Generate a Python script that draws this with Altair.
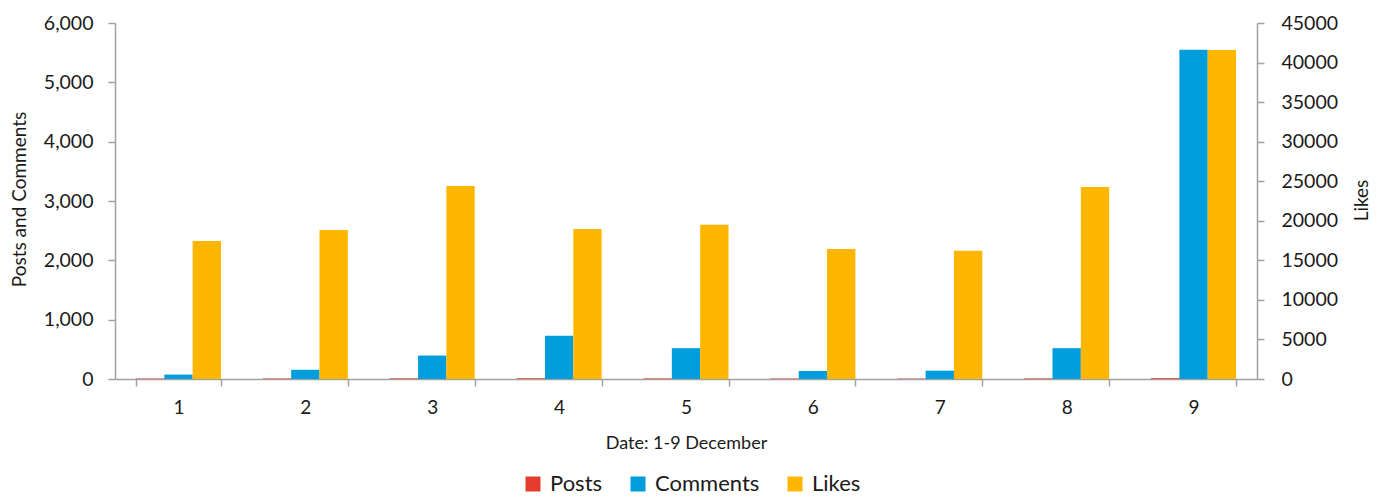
import altair as alt
import pandas as pd

days = [1, 2, 3, 4, 5, 6, 7, 8, 9]
series_names = ["Posts", "Comments", "Likes"]
series_colors = ["#E63A2E", "#009DDD", "#FFB600"]
posts = [8, 9, 11, 12, 10, 8, 7, 10, 14]
comments = [75, 155, 395, 730, 520, 135, 140, 520, 5550]
likes = [17450, 18830, 24400, 18960, 19500, 16430, 16220, 24270, 41590]
left_ticks = [0, 1000, 2000, 3000, 4000, 5000, 6000]
right_ticks = [0, 5000, 10000, 15000, 20000, 25000, 30000, 35000, 40000, 45000]

rows = []
for i, d in enumerate(days):
    rows.append({"day": d, "series": "Posts", "value": posts[i]})
    rows.append({"day": d, "series": "Comments", "value": comments[i]})
    rows.append({"day": d, "series": "Likes", "value": likes[i]})
df = pd.DataFrame(rows)

W, H = 1142, 356
FONT = "Lato"
AXIS_GRAY = "#A0A0A0"
TEXT = "#1a1a1a"

x_enc = alt.X(
    "day:O",
    title="Date: 1-9 December",
    scale=alt.Scale(paddingInner=0.33, paddingOuter=0.165),
    axis=alt.Axis(
        labelAngle=0, tickBand="extent", tickSize=7, labelPadding=12,
        labelFontSize=19, labelFont=FONT, labelColor=TEXT,
        domainColor=AXIS_GRAY, tickColor=AXIS_GRAY, domainWidth=1.5, tickWidth=1.5,
        titleFont=FONT, titleFontSize=18, titleFontWeight="normal", titleColor=TEXT,
        titleX=W / 2, titleY=69, titleAlign="center", titleBaseline="alphabetic",
        grid=False,
    ),
)
xo_enc = alt.XOffset(
    "series:N",
    scale=alt.Scale(domain=series_names, paddingInner=0, paddingOuter=0),
)
color_enc = alt.Color(
    "series:N",
    scale=alt.Scale(domain=series_names, range=series_colors),
    legend=alt.Legend(
        title=None, orient="none", direction="horizontal",
        legendX=407, legendY=450,
        symbolType="square", symbolSize=225, symbolStrokeWidth=0,
        labelFont=FONT, labelFontSize=22, labelColor=TEXT,
        columnPadding=24, labelOffset=6,
    ),
)

left = alt.Chart(df).transform_filter("datum.series != 'Likes'").mark_bar().encode(
    x=x_enc,
    xOffset=xo_enc,
    y=alt.Y(
        "value:Q",
        title="Posts and Comments",
        scale=alt.Scale(domain=[0, 6000], nice=False),
        axis=alt.Axis(
            values=left_ticks, format=",d", tickSize=7, labelPadding=15,
            labelFontSize=19.5, labelFont=FONT, labelColor=TEXT,
            domainColor=AXIS_GRAY, tickColor=AXIS_GRAY, domainWidth=1.5, tickWidth=1.5,
            titleFont=FONT, titleFontSize=19, titleFontWeight="normal", titleColor=TEXT,
            titleAngle=270, titleX=-90, titleY=176, titleAlign="center",
            titleBaseline="alphabetic", grid=False,
        ),
    ),
    color=color_enc,
)

right = alt.Chart(df).transform_filter("datum.series == 'Likes'").mark_bar().encode(
    x=x_enc,
    xOffset=xo_enc,
    y=alt.Y(
        "value:Q",
        title="Likes",
        scale=alt.Scale(domain=[0, 45000], nice=False),
        axis=alt.Axis(
            orient="right", values=right_ticks, format="d", tickSize=7, labelPadding=17,
            labelFontSize=19.5, labelFont=FONT, labelColor=TEXT,
            domainColor=AXIS_GRAY, tickColor=AXIS_GRAY, domainWidth=1.5, tickWidth=1.5,
            titleFont=FONT, titleFontSize=19, titleFontWeight="normal", titleColor=TEXT,
            titleAngle=270, titleX=110, titleY=177, titleAlign="center",
            titleBaseline="alphabetic", grid=False,
        ),
    ),
    color=color_enc,
)

chart = (
    alt.layer(left, right)
    .resolve_scale(y="independent")
    .properties(
        width=W,
        height=H,
        autosize=alt.AutoSizeParams(type="none"),
        padding={"left": 107, "top": 15, "right": 123, "bottom": 119},
    )
    .configure_view(stroke=None)
)

chart.save("out.html", embed_options={"renderer": "svg", "actions": False})
